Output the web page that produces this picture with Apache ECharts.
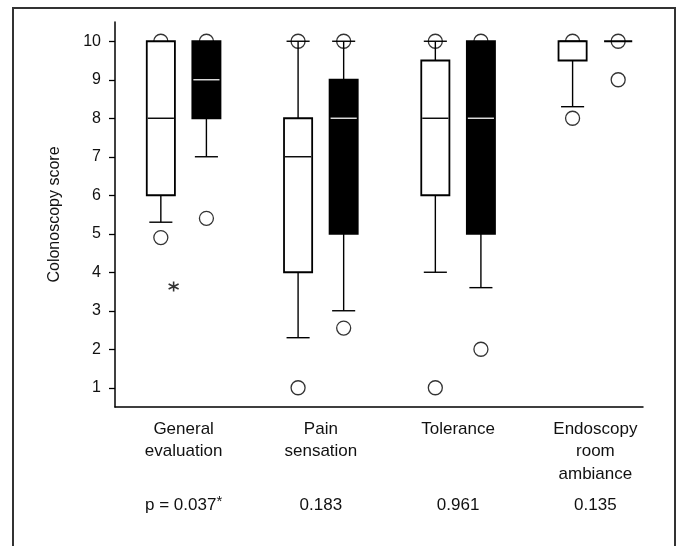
<!DOCTYPE html>
<html>
<head>
<meta charset="utf-8">
<script src="https://cdn.jsdelivr.net/npm/echarts@6/dist/echarts.min.js"></script>
<style>
	html, body { margin: 0; padding: 0; background: #fff; }
	#chart { width: 680px; height: 546px; }
</style>
</head>
<body>
<div id="chart"></div>
<script>
// categories and p values under each group
var categories = ["General\nevaluation", "Pain\nsensation", "Tolerance", "Endoscopy\nroom\nambiance"];
var pValues = ["p = 0.037*", "0.183", "0.961", "0.135"];
var yTicks = [1, 2, 3, 4, 5, 6, 7, 8, 9, 10];

// [min, Q1, median, Q3, max]
var whiteBoxes = [
	[5.3, 6, 8, 10, 10],
	[2.3, 4, 7, 8, 10],
	[4, 6, 8, 9.5, 10],
	[8.3, 9.5, 10, 10, 10]
];
var blackBoxes = [
	[7, 8, 9, 10, 10],
	[3, 5, 8, 9, 10],
	[3.6, 5, 8, 10, 10],
	[10, 10, 10, 10, 10]
];
// [category index, value]
var whiteOutliers = [[0, 10], [0, 4.9], [1, 10], [1, 1], [2, 10], [2, 1], [3, 10], [3, 8]];
var blackOutliers = [[0, 10], [0, 5.4], [1, 10], [1, 2.55], [2, 10], [2, 2], [3, 10], [3, 9]];
var extremes = [[0, 3.63]];

var font = "'Liberation Sans', Arial, sans-serif";
var textColor = "#111";

function boxSeries(boxes, side, fill, medianColor) {
	return {
		type: "custom",
		z: 3,
		xAxisIndex: 0,
		yAxisIndex: 0,
		encode: { x: 0, y: [1, 2, 3, 4, 5] },
		data: boxes.map(function (b, i) {
			return [i].concat(b);
		}),
		renderItem: function (params, api) {
			var cat = api.value(0);
			var band = api.size([1, 0])[0];
			var cx = api.coord([cat, 0])[0] + side * band * 0.166;
			var w = band * 0.205;
			var cap = w * 0.82;
			var y = function (k) {
				return api.coord([cat, api.value(k)])[1];
			};
			var yMin = y(1), yQ1 = y(2), yMed = y(3), yQ3 = y(4), yMax = y(5);
			var line = { stroke: "#000", lineWidth: 1.4 };
			var kids = [];
			if (api.value(5) > api.value(4)) {
				kids.push({ type: "line", shape: { x1: cx, y1: yMax, x2: cx, y2: yQ3 }, style: line });
				kids.push({ type: "line", shape: { x1: cx - cap / 2, y1: yMax, x2: cx + cap / 2, y2: yMax }, style: line });
			}
			if (api.value(1) < api.value(2)) {
				kids.push({ type: "line", shape: { x1: cx, y1: yQ1, x2: cx, y2: yMin }, style: line });
				kids.push({ type: "line", shape: { x1: cx - cap / 2, y1: yMin, x2: cx + cap / 2, y2: yMin }, style: line });
			}
			kids.push({
				type: "rect",
				shape: { x: cx - w / 2, y: yQ3, width: w, height: yQ1 - yQ3 },
				style: { fill: fill, stroke: "#000", lineWidth: 1.8 }
			});
			if (api.value(4) > api.value(2)) {
				kids.push({
					type: "line",
					shape: { x1: cx - w / 2 + 1, y1: yMed, x2: cx + w / 2 - 1, y2: yMed },
					style: { stroke: medianColor, lineWidth: 1.4 }
				});
			}
			return { type: "group", children: kids };
		}
	};
}

function outlierSeries(points, side) {
	return {
		type: "scatter",
		z: 1,
		xAxisIndex: 0,
		yAxisIndex: 0,
		symbol: "circle",
		symbolSize: 14,
		symbolOffset: [side * 22.8, 0],
		itemStyle: { color: "transparent", borderColor: "#000", borderWidth: 1.3 },
		data: points
	};
}

var myChart = echarts.init(document.getElementById("chart"), null, { renderer: "canvas" });
var option = {
	animation: false,
	backgroundColor: "#fff",
	textStyle: { fontFamily: font },
	graphic: [
		{
			type: "rect",
			shape: { x: 13, y: 8, width: 662, height: 600 },
			style: { fill: "none", stroke: "#333", lineWidth: 2 },
			silent: true
		}
	],
	grid: [
		{ left: 115, right: 16, top: 22, bottom: 139 },
		// second grid only carries the shorter visible x axis line
		{ left: 115, right: 37, top: 22, bottom: 139 }
	],
	xAxis: [
		{
			type: "category",
			gridIndex: 0,
			data: categories,
			axisLine: { show: false },
			axisTick: { show: false },
			axisLabel: {
				interval: 0,
				margin: 11,
				color: textColor,
				fontSize: 17,
				lineHeight: 22.5,
				fontFamily: font
			}
		},
		{
			type: "category",
			gridIndex: 0,
			position: "bottom",
			offset: 76,
			data: pValues,
			axisLine: { show: false },
			axisTick: { show: false },
			axisLabel: {
				interval: 0,
				hideOverlap: false,
				margin: 11,
				color: textColor,
				fontSize: 17,
				lineHeight: 22.5,
				fontFamily: font,
				formatter: function (v) {
					return v.replace("*", "{sup|*}");
				},
				rich: {
					sup: { fontSize: 15, color: textColor, fontFamily: font, verticalAlign: "top", padding: [0, 0, 8, 0] }
				}
			}
		},
		{
			type: "value",
			gridIndex: 1,
			min: 0,
			max: 1,
			axisLine: { show: true, lineStyle: { color: "#000", width: 1.5 } },
			axisTick: { show: false },
			axisLabel: { show: false },
			splitLine: { show: false }
		}
	],
	yAxis: [
		{
			type: "value",
			gridIndex: 0,
			min: 0.5,
			max: 10.5,
			name: "Colonoscopy score",
			nameLocation: "middle",
			nameGap: 52,
			nameTextStyle: { color: textColor, fontSize: 16, fontFamily: font },
			axisLine: { show: true, lineStyle: { color: "#000", width: 1.5 } },
			axisTick: { show: true, length: 6, customValues: yTicks, lineStyle: { color: "#000", width: 1.3 } },
			axisLabel: { margin: 14, color: textColor, fontSize: 16, fontFamily: font, customValues: yTicks },
			splitLine: { show: false }
		},
		{
			type: "value",
			gridIndex: 1,
			show: false
		}
	],
	series: [
		outlierSeries(whiteOutliers, -1),
		outlierSeries(blackOutliers, 1),
		{
			type: "scatter",
			z: 2,
			xAxisIndex: 0,
			yAxisIndex: 0,
			symbol: "path://M0,-10L0,10M-8.66,-5L8.66,5M-8.66,5L8.66,-5",
			symbolSize: 10,
			symbolOffset: [-10, 0],
			itemStyle: { color: "none", borderColor: "#000", borderWidth: 1.6 },
			data: extremes
		},
		boxSeries(whiteBoxes, -1, "#fff", "#000"),
		boxSeries(blackBoxes, 1, "#000", "#e6e6e6")
	]
};
myChart.setOption(option);
window.addEventListener("resize", myChart.resize);
</script>
</body>
</html>
